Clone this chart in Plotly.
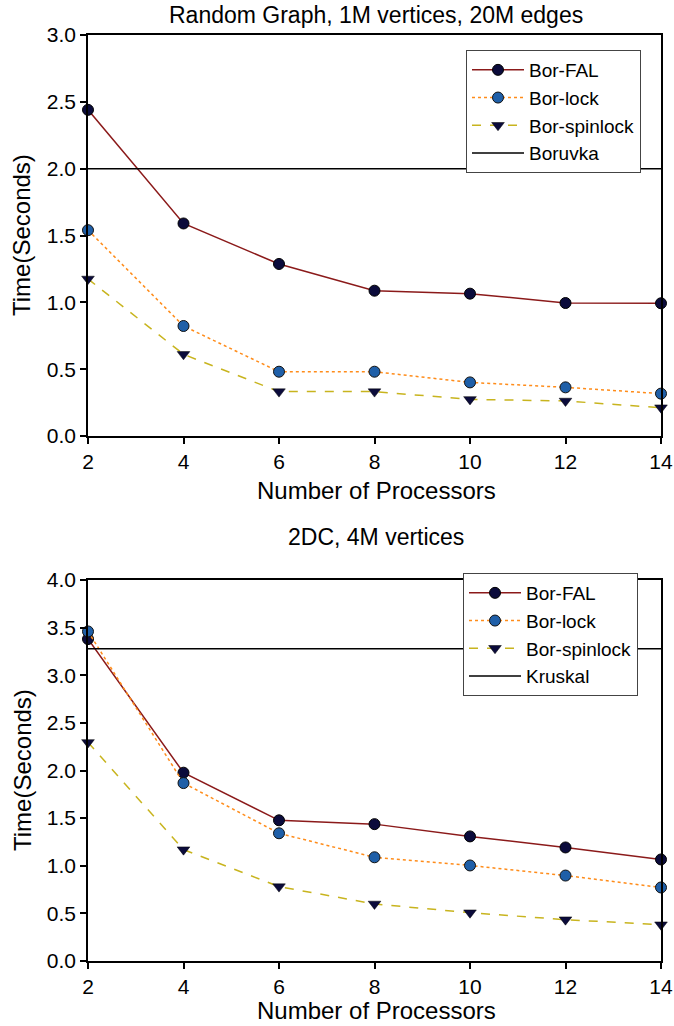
import plotly.graph_objects as go

# Processor counts
processors = [2, 4, 6, 8, 10, 12, 14]

# Random graph, 1M vertices, 20M edges (seconds)
rg_fal = [2.44, 1.59, 1.287, 1.087, 1.065, 0.995, 0.993]
rg_lock = [1.54, 0.823, 0.481, 0.481, 0.401, 0.364, 0.317]
rg_spin = [1.175, 0.611, 0.332, 0.332, 0.274, 0.262, 0.212]
rg_boruvka = 2.0

# 2DC, 4M vertices (seconds)
dc_fal = [3.38, 1.977, 1.477, 1.437, 1.308, 1.192, 1.066]
dc_lock = [3.46, 1.868, 1.341, 1.089, 1.003, 0.897, 0.772]
dc_spin = [2.295, 1.169, 0.781, 0.599, 0.507, 0.434, 0.381]
dc_kruskal = 3.278

FONT = "Liberation Sans, Arial, sans-serif"
W, H = 674, 1026
L, R = 88, 13

FAL_LINE = "#8b1a1a"
LOCK_LINE = "#ff8c1a"
SPIN_LINE = "#c8b41e"
DARK = "#0b0b3b"
BLUE = "#1f5fa8"

fig = go.Figure()


def add_panel(xa, ya, legend, fal, lock, spin, ref, ref_name):
    fig.add_trace(go.Scatter(
        x=processors, y=fal, name="Bor-FAL", mode="lines+markers",
        line=dict(color=FAL_LINE, width=1.5),
        marker=dict(symbol="circle", size=11, color=DARK,
                    line=dict(color="black", width=1)),
        xaxis=xa, yaxis=ya, legend=legend, cliponaxis=False))
    fig.add_trace(go.Scatter(
        x=processors, y=lock, name="Bor-lock", mode="lines+markers",
        line=dict(color=LOCK_LINE, width=1.5, dash="dot"),
        marker=dict(symbol="circle", size=11, color=BLUE,
                    line=dict(color="#111", width=1)),
        xaxis=xa, yaxis=ya, legend=legend, cliponaxis=False))
    fig.add_trace(go.Scatter(
        x=processors, y=spin, name="Bor-spinlock", mode="lines+markers",
        line=dict(color=SPIN_LINE, width=1.5, dash="dash"),
        marker=dict(symbol="triangle-down", size=11, color=DARK,
                    line=dict(color="black", width=0.5)),
        xaxis=xa, yaxis=ya, legend=legend, cliponaxis=False))
    fig.add_trace(go.Scatter(
        x=[processors[0], processors[-1]], y=[ref, ref], name=ref_name,
        mode="lines", line=dict(color="black", width=1.5),
        xaxis=xa, yaxis=ya, legend=legend))


add_panel("x", "y", "legend", rg_fal, rg_lock, rg_spin, rg_boruvka, "Boruvka")
add_panel("x2", "y2", "legend2", dc_fal, dc_lock, dc_spin, dc_kruskal, "Kruskal")


def py(p):
    return 1 - p / H


def px(p):
    return (p - L) / (W - L - R)


axis_common = dict(
    showline=True, linecolor="black", linewidth=1.5, mirror=True,
    ticks="outside", ticklen=6, tickcolor="black", tickwidth=1.5,
    showgrid=False, zeroline=False, automargin=False,
    ticklabeloverflow="allow",
    tickfont=dict(family=FONT, size=21, color="black"),
)

legend_style = dict(
    xanchor="left", yanchor="top",
    bgcolor="white", bordercolor="#444", borderwidth=1,
    font=dict(family=FONT, size=19, color="black"),
    itemwidth=52, tracegroupgap=0,
)

fig.update_layout(
    template="none",
    width=W, height=H,
    margin=dict(l=L, r=R, t=0, b=0, pad=0, autoexpand=False),
    paper_bgcolor="white", plot_bgcolor="white",
    font=dict(family=FONT, color="black"),
    xaxis=dict(domain=[0, 1], range=[2, 14], tickvals=[2, 4, 6, 8, 10, 12, 14],
               anchor="y", **axis_common),
    yaxis=dict(domain=[py(436), py(35)], range=[0, 3.0],
               tickvals=[0, 0.5, 1, 1.5, 2, 2.5, 3], tickformat=".1f",
               anchor="x", **axis_common),
    xaxis2=dict(domain=[0, 1], range=[2, 14], tickvals=[2, 4, 6, 8, 10, 12, 14],
                anchor="y2", **axis_common),
    yaxis2=dict(domain=[py(961), py(580)], range=[0, 4.0],
                tickvals=[0, 0.5, 1, 1.5, 2, 2.5, 3, 3.5, 4], tickformat=".1f",
                anchor="x2", **axis_common),
    legend=dict(x=px(466), y=py(50), **legend_style),
    legend2=dict(x=px(463), y=py(573), **legend_style),
    showlegend=True,
)

titles = [
    ("Random Graph, 1M vertices, 20M edges", 15),
    ("2DC, 4M vertices", 537),
]
for text, ypos in titles:
    fig.add_annotation(text=text, xref="paper", yref="paper",
                       x=px(376), y=py(ypos), showarrow=False,
                       xanchor="center", yanchor="middle",
                       font=dict(family=FONT, size=23, color="black"))

for ytxt in (490, 1010):
    fig.add_annotation(text="Number of Processors", xref="paper", yref="paper",
                       x=px(376), y=py(ytxt), showarrow=False,
                       xanchor="center", yanchor="middle",
                       font=dict(family=FONT, size=24, color="black"))

for ymid in (235, 770):
    fig.add_annotation(text="Time(Seconds)", xref="paper", yref="paper",
                       x=px(22), y=py(ymid), showarrow=False,
                       xanchor="center", yanchor="middle", textangle=-90,
                       font=dict(family=FONT, size=24, color="black"))

fig.write_html("out.html")
